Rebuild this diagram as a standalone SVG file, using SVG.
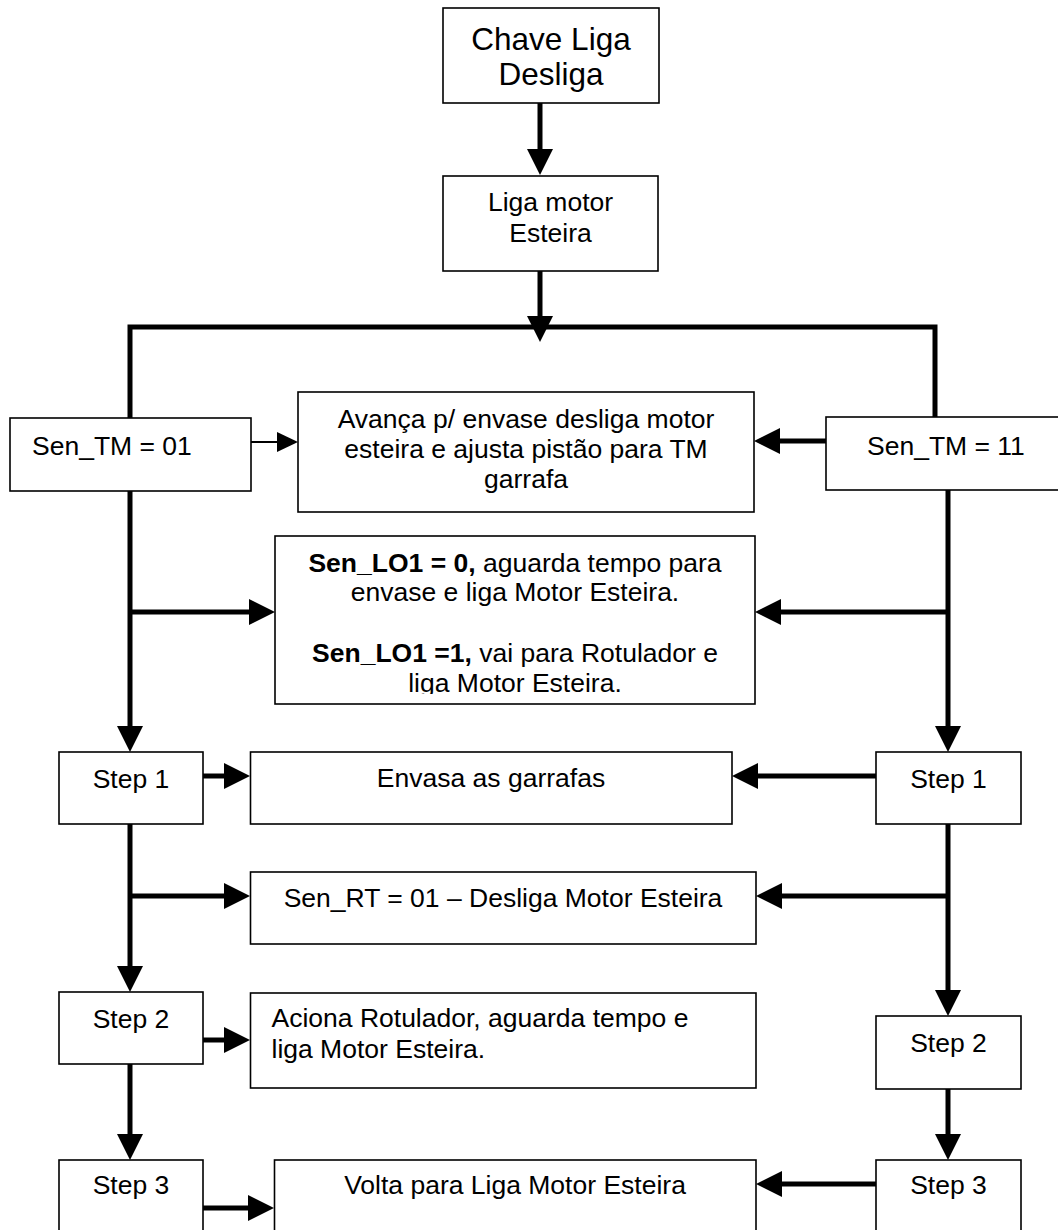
<svg xmlns="http://www.w3.org/2000/svg" width="1058" height="1230" viewBox="0 0 1058 1230">
<style>
.box{fill:#fff;stroke:#000;stroke-width:1.6}
.t{font-family:"Liberation Sans",Arial,sans-serif;font-size:26.5px;fill:#000}
.c{text-anchor:middle}
.big{font-size:31.5px}
.b{font-weight:bold}
.ln{fill:none;stroke:#000;stroke-width:5}
.thin{fill:none;stroke:#000;stroke-width:2}
</style>
<defs>
<marker id="ah" markerUnits="userSpaceOnUse" markerWidth="26" markerHeight="26" viewBox="0 0 26 26" refX="0" refY="13" orient="auto"><path d="M0,0 L26,13 L0,26 z" fill="#000"/></marker>
<marker id="ahs" markerUnits="userSpaceOnUse" markerWidth="21" markerHeight="20" viewBox="0 0 21 20" refX="0" refY="10" orient="auto"><path d="M0,0 L21,10 L0,20 z" fill="#000"/></marker>
<clipPath id="clipLO"><rect x="276" y="537" width="478" height="157"/></clipPath>
</defs>
<rect width="1058" height="1230" fill="#fff"/>
<g id="connectors">
<path class="ln" d="M540,103 V149" marker-end="url(#ah)"/>
<path class="ln" d="M540,271 V316" marker-end="url(#ah)"/>
<path class="ln" d="M130,418 V327 H935 V418"/>
<path class="thin" d="M251,442 H277" marker-end="url(#ahs)"/>
<path class="ln" d="M826,441 H780" marker-end="url(#ah)"/>
<path class="ln" d="M130,491 V726" marker-end="url(#ah)"/>
<path class="ln" d="M130,612 H249" marker-end="url(#ah)"/>
<path class="ln" d="M948,490 V726" marker-end="url(#ah)"/>
<path class="ln" d="M948,612 H781" marker-end="url(#ah)"/>
<path class="ln" d="M203,776 H224" marker-end="url(#ah)"/>
<path class="ln" d="M876,776 H758" marker-end="url(#ah)"/>
<path class="ln" d="M130,824 V966" marker-end="url(#ah)"/>
<path class="ln" d="M130,896 H224" marker-end="url(#ah)"/>
<path class="ln" d="M948,824 V990" marker-end="url(#ah)"/>
<path class="ln" d="M948,896 H782" marker-end="url(#ah)"/>
<path class="ln" d="M203,1040 H224" marker-end="url(#ah)"/>
<path class="ln" d="M130,1064 V1134" marker-end="url(#ah)"/>
<path class="ln" d="M948,1089 V1134" marker-end="url(#ah)"/>
<path class="ln" d="M203,1208 H248" marker-end="url(#ah)"/>
<path class="ln" d="M876,1184 H782" marker-end="url(#ah)"/>
</g>
<g id="chave">
<rect class="box" x="443" y="8" width="216" height="95"/>
<text class="t c big" x="551" y="50">Chave Liga</text>
<text class="t c big" x="551" y="85">Desliga</text>
</g>
<g id="liga">
<rect class="box" x="443" y="176" width="215" height="95"/>
<text class="t c" x="550.5" y="211">Liga motor</text>
<text class="t c" x="550.5" y="242">Esteira</text>
</g>
<g id="sentm01">
<rect class="box" x="10" y="418" width="241" height="73"/>
<text class="t" x="32" y="455">Sen_TM = 01</text>
</g>
<g id="sentm11">
<rect class="box" x="826" y="417" width="240" height="73"/>
<text class="t" x="867" y="455">Sen_TM = 11</text>
</g>
<g id="avanca">
<rect class="box" x="298" y="392" width="456" height="120"/>
<text class="t c" x="526" y="428">Avança p/ envase desliga motor</text>
<text class="t c" x="526" y="458">esteira e ajusta pistão para TM</text>
<text class="t c" x="526" y="488">garrafa</text>
</g>
<g id="senlo1">
<rect class="box" x="275" y="536" width="480" height="168"/>
<g clip-path="url(#clipLO)">
<text class="t c" x="515" y="572"><tspan class="b">Sen_LO1 = 0,</tspan> aguarda tempo para</text>
<text class="t c" x="515" y="601">envase e liga Motor Esteira.</text>
<text class="t c" x="515" y="662"><tspan class="b">Sen_LO1 =1,</tspan> vai para Rotulador e</text>
<text class="t c" x="515" y="692">liga Motor Esteira.</text>
</g>
</g>
<g id="step1l">
<rect class="box" x="59" y="752" width="144" height="72"/>
<text class="t c" x="131" y="788">Step 1</text>
</g>
<g id="envasa">
<rect class="box" x="250.5" y="752" width="481.5" height="72"/>
<text class="t c" x="491" y="787">Envasa as garrafas</text>
</g>
<g id="step1r">
<rect class="box" x="876" y="752" width="145" height="72"/>
<text class="t c" x="948.5" y="788">Step 1</text>
</g>
<g id="senrt">
<rect class="box" x="250.5" y="872" width="505.5" height="72"/>
<text class="t c" x="503" y="907">Sen_RT = 01 – Desliga Motor Esteira</text>
</g>
<g id="step2l">
<rect class="box" x="59" y="992" width="144" height="72"/>
<text class="t c" x="131" y="1028">Step 2</text>
</g>
<g id="aciona">
<rect class="box" x="250.5" y="993" width="505.5" height="95"/>
<text class="t" x="271.5" y="1027">Aciona Rotulador, aguarda tempo e</text>
<text class="t" x="271.5" y="1058">liga Motor Esteira.</text>
</g>
<g id="step2r">
<rect class="box" x="876" y="1016" width="145" height="73"/>
<text class="t c" x="948.5" y="1052">Step 2</text>
</g>
<g id="step3l">
<rect class="box" x="59" y="1160" width="144" height="80"/>
<text class="t c" x="131" y="1194">Step 3</text>
</g>
<g id="volta">
<rect class="box" x="274.5" y="1160" width="481.5" height="80"/>
<text class="t c" x="515" y="1194">Volta para Liga Motor Esteira</text>
</g>
<g id="step3r">
<rect class="box" x="876" y="1160" width="145" height="80"/>
<text class="t c" x="948.5" y="1194">Step 3</text>
</g>
</svg>
